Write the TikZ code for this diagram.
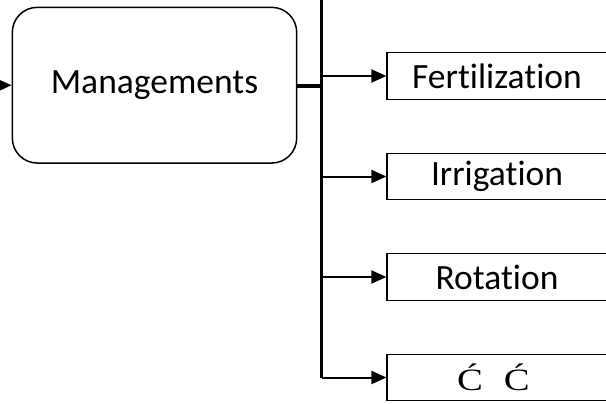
\documentclass[tikz,border=0pt]{standalone}
\usepackage{fontspec}
\setmainfont[Ligatures={CommonOff,ContextualOff}]{Carlito}
\newfontfamily\serifface{Liberation Serif}
\usetikzlibrary{arrows.meta}
\tikzset{
  mgbox/.style={draw, line width=1.5pt, rounded corners=25pt,
    minimum width=284.4pt, minimum height=155.7pt, inner sep=0pt,
    font=\fontsize{35.5}{40}\selectfont},
  itembox/.style={draw, line width=1.2pt, minimum width=220pt,
    minimum height=46.5pt, inner sep=0pt,
    font=\fontsize{35.5}{40}\selectfont},
  feed/.style={line width=2pt, -{Triangle[length=15pt,width=13pt]}},
  trunk/.style={line width=2.5pt},
  stub/.style={line width=3.2pt},
}
\newcommand{\accC}{\scalebox{1.25}[1]{Ć}}
\begin{document}
\begin{tikzpicture}[x=1pt, y=-1pt]
\useasboundingbox (0,0) rectangle (606,404);
\fill[white] (0,0) rectangle (606,404);

% central block
\node[mgbox] (mg) at (154.5,85.2) {Managements};
\coordinate (src) at (-20,85.5);

% practices
\node[itembox] (fert) at (497,76)  {Fertilization};
\node[itembox] (irr)  at (497,176.5) {Irrigation};
\node[itembox] (rot)  at (497,277) {Rotation};
\node[itembox] (oth)  at (497,377.5)
  {\makebox[220pt][l]{\serifface\fontsize{31}{34}\selectfont\hspace{70pt}\accC\hspace{21pt}\accC}};

% distribution trunk
\coordinate (top) at (321.5,-5);
\coordinate (join) at (321.5,86);

\draw[feed] (src) -- (mg.west);
\draw[stub] (mg.east |- join) -- (join);
\draw[trunk] (top) -- (top |- oth.west);
\draw[feed] (top |- fert.west) -- (fert.west);
\draw[feed] (top |- irr.west) -- (irr.west);
\draw[feed] (top |- rot.west) -- (rot.west);
\draw[feed] (top |- oth.west) -- (oth.west);
\end{tikzpicture}
\end{document}
